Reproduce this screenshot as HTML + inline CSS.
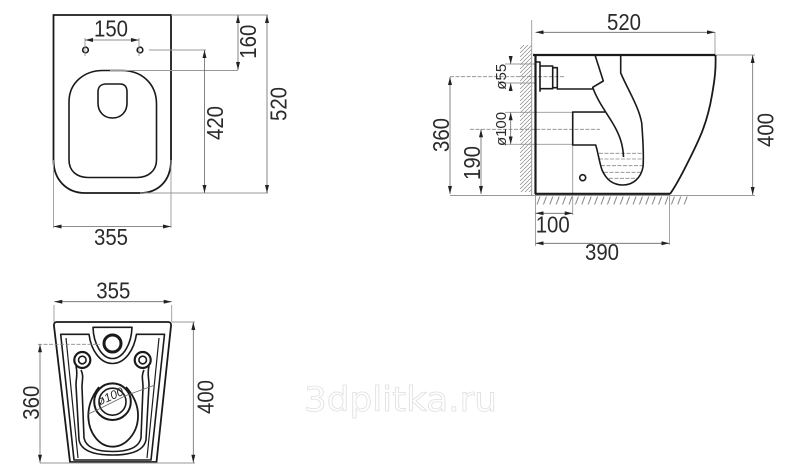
<!DOCTYPE html>
<html><head><meta charset="utf-8"><style>
html,body{margin:0;padding:0;background:#fff}
svg{display:block;filter:blur(.3px)}
text{font-family:"Liberation Sans",sans-serif;fill:#2a2a2a;font-size:23px;text-anchor:middle}
.k{fill:none;stroke:#1a1a1a;stroke-width:1.6;stroke-linejoin:round}
.b{fill:none;stroke:#1a1a1a;stroke-width:2.2}
.g{fill:none;stroke:#999;stroke-width:.9}
.d{fill:none;stroke:#888;stroke-width:.8;stroke-dasharray:4 1.5}
.a{fill:none;stroke:#666;stroke-width:.8;marker-start:url(#ar);marker-end:url(#ar)}
</style></head><body>
<svg width="800" height="475" viewBox="0 0 800 475" xmlns="http://www.w3.org/2000/svg">
<defs>
<marker id="ar" viewBox="0 0 8 4" refX="8" refY="2" markerUnits="userSpaceOnUse" markerWidth="8" markerHeight="4" orient="auto-start-reverse"><path d="M0 0L8 2L0 4Z" fill="#222"/></marker>
<pattern id="wh" patternUnits="userSpaceOnUse" x="520" y="45" width="12" height="4"><path d="M0 4L4 0M4 4L8 0M8 4L12 0" stroke="#888" stroke-width=".7" fill="none"/></pattern>
<pattern id="gh" patternUnits="userSpaceOnUse" x="535" y="196.5" width="6.4" height="8"><path d="M2 8L5 0" stroke="#666" stroke-width=".8" fill="none"/></pattern>
</defs>

<!-- top view -->
<path class="b" style="stroke-width:1.8" d="M53.500 15H171V160C171 182 157 193 140 193H85C67 193 53.500 180 53.500 160Z"/>
<path class="k" d="M69 102C69 82 85 70.500 103 70.500H122C142 70.500 156.500 84 156.500 104V160C156.500 171 148 177.500 137 177.500H88C77 177.500 69 171 69 160Z"/>
<path class="k" d="M98 92C98 86 102 84 106 84H120C125 84 127 87 127 92V103C127 112 121 118 112.500 118C104 118 98 112 98 103Z"/>
<circle class="k" cx="85.500" cy="50" r="2.800"/><circle class="k" cx="140" cy="50" r="2.800"/>
<path class="g" d="M85 38V56M139 38V56M149 50H206M110 70.500H238M171 15H268M140 193H268M53.500 160V228M171 160V228"/>
<path class="a" d="M85 40H139"/><path class="a" d="M238 15V70"/><path class="a" d="M204.500 50V193"/><path class="a" d="M267 15V193"/><path class="a" d="M53.500 226.500H171"/>
<text x="111" y="36.500" textLength="34" lengthAdjust="spacingAndGlyphs">150</text>
<text x="111" y="245" textLength="34" lengthAdjust="spacingAndGlyphs">355</text>
<text transform="translate(256 41.700) rotate(-90)" textLength="34" lengthAdjust="spacingAndGlyphs">160</text>
<text transform="translate(223 123) rotate(-90)" textLength="34" lengthAdjust="spacingAndGlyphs">420</text>
<text transform="translate(286.700 104) rotate(-90)" textLength="34" lengthAdjust="spacingAndGlyphs">520</text>

<!-- side view -->
<rect x="520" y="45" width="12" height="147" fill="url(#wh)"/>
<rect x="535" y="196.500" width="155" height="8" fill="url(#gh)"/>
<path class="g" d="M531.700 20V195M535.500 195V246M715 32V55M572.700 112V215M669.500 195V245M450 195.500H755M715 55H755M505 64H535M505 83H535"/>
<path class="g" d="M505 112.300H605M505 144.300H573"/>
<path class="d" d="M450 76.700H565M470 129.300H600M599 153.300H643M599 159H643M601 165.700H643M604 172.300H642M609 178.300H638"/>
<path class="b" d="M533 55H715M535.500 55V194M535 193.800H670"/>
<path class="k" style="stroke-width:1.800" d="M715.500 55C716 68 715 78 712 95C707 125 698 142 687 164C680 178 675 187 670 194"/>
<path class="k" d="M595 55L603.300 81L592.700 87.300C597 100 606 112 612 122C620 135 623 145 623.500 157"/>
<path class="k" d="M620.700 55V73C628 90 639 107 641.700 123C643 140 644 155 643 167C641 178 633 185 623 185C612 185 606 179 602 170C599 161 598 152 595.700 145H572.700V112H605"/>
<path class="k" d="M556.700 89H593M535 62H540V91.700M540 66H552.700V88.700H540M552.700 67.700H557.300V87.700H552.700"/>
<circle class="k" cx="582.700" cy="177.700" r="3"/>
<path class="a" d="M535.500 32.300H715"/><path class="a" d="M535.500 213.300H572.700"/><path class="a" d="M535.500 243.300H669.500"/>
<path class="a" d="M450 77V194"/><path class="a" d="M481 129.300V194"/><path class="a" d="M752.700 55V195"/>
<path class="a" style="marker-start:none" d="M510.700 56V64"/><path class="a" style="marker-start:none" d="M510.700 91V83"/>
<path class="a" d="M510.700 112.300V144.300"/>
<text x="624" y="30" textLength="34" lengthAdjust="spacingAndGlyphs">520</text>
<text x="552.700" y="232.700" textLength="34" lengthAdjust="spacingAndGlyphs">100</text>
<text x="602" y="260" textLength="34" lengthAdjust="spacingAndGlyphs">390</text>
<text transform="translate(449 135) rotate(-90)" textLength="34" lengthAdjust="spacingAndGlyphs">360</text>
<text transform="translate(480 163) rotate(-90)" textLength="34" lengthAdjust="spacingAndGlyphs">190</text>
<text transform="translate(773.300 130) rotate(-90)" textLength="34" lengthAdjust="spacingAndGlyphs">400</text>
<text transform="translate(506 76.700) rotate(-90)" style="font-size:15px" textLength="26" lengthAdjust="spacingAndGlyphs">ø55</text>
<text transform="translate(506 129) rotate(-90)" style="font-size:15px" textLength="34" lengthAdjust="spacingAndGlyphs">ø100</text>

<!-- bottom view -->
<path class="k" style="stroke-width:1.800" d="M57 322H168Q171.500 322 171 326L156.500 462H70L54 326Q53.500 322 57 322Z"/>
<path class="k" d="M89 334.300H60.700L74 460H151L164.500 334.300H136.500C134 350 125 363.500 112.500 363.500C100 363.500 91 350 89 334.300Z"/>
<path class="k" d="M66 338L78 458M159 338L147 458" style="stroke-width:1.200"/>
<path class="k" d="M93 327.300H132C131.500 344 123 358.500 112.500 358.500C102 358.500 93.500 344 93 327.300Z"/>
<circle cx="112.500" cy="343.500" r="8.500" fill="none" stroke="#1a1a1a" stroke-width="3"/>
<circle class="k" cx="82.300" cy="360" r="8" style="stroke-width:2.200"/><circle class="k" cx="82.300" cy="360" r="3.800"/>
<circle class="k" cx="142.700" cy="360" r="8" style="stroke-width:2.200"/><circle class="k" cx="142.700" cy="360" r="3.800"/>
<path class="k" d="M76 366C78 374 76 378 76 385L79 440C81 450 92 455 112.500 455C133 455 144 450 146 440L149 385C149 378 147 374 149 366"/>
<path class="k" d="M81 370C84 376 82 380 82 387L84 438C86 447 96 451.500 112.500 451.500C129 451.500 139 447 141 438L143 387C143 380 141 376 144 370"/>
<path class="k" d="M99 387C92 396 88 406 88.300 417C89 433 99 446.700 112.500 446.700C126 446.700 137.500 433 138 417C138.500 406 134 396 126 387" style="stroke-width:1.800"/>
<circle cx="112.500" cy="401.700" r="18.300" fill="#fff" stroke="#1a1a1a" stroke-width="2"/><circle class="k" cx="112.500" cy="401.700" r="13.500"/>
<path class="g" d="M54 305V322M171.700 305V322M172 322H195M40 463H195"/>
<path class="d" d="M38 344.300H100"/>
<path fill="none" stroke="#666" stroke-width=".8" d="M155 385L126 395.500M88.300 414L98 409.500M98 409.500L126 395.500"/>
<path class="a" d="M54.300 301.700H171.700"/><path class="a" d="M40 344.300V462.700"/><path class="a" d="M193.300 322V462.700"/>
<text x="113.300" y="298.300" textLength="34" lengthAdjust="spacingAndGlyphs">355</text>
<text transform="translate(39 402.700) rotate(-90)" textLength="34" lengthAdjust="spacingAndGlyphs">360</text>
<text transform="translate(213.300 397) rotate(-90)" textLength="34" lengthAdjust="spacingAndGlyphs">400</text>
<text transform="translate(112 400) rotate(-24)" style="font-size:12px;font-style:italic">ø100</text>

<!-- watermark -->
<text x="304" y="411" textLength="193" lengthAdjust="spacingAndGlyphs" style="font-family:'DejaVu Sans',sans-serif;font-size:34px;text-anchor:start;fill:#fff;stroke:#e0e0e0;stroke-width:.8">3dplitka.ru</text>
</svg>
</body></html>
